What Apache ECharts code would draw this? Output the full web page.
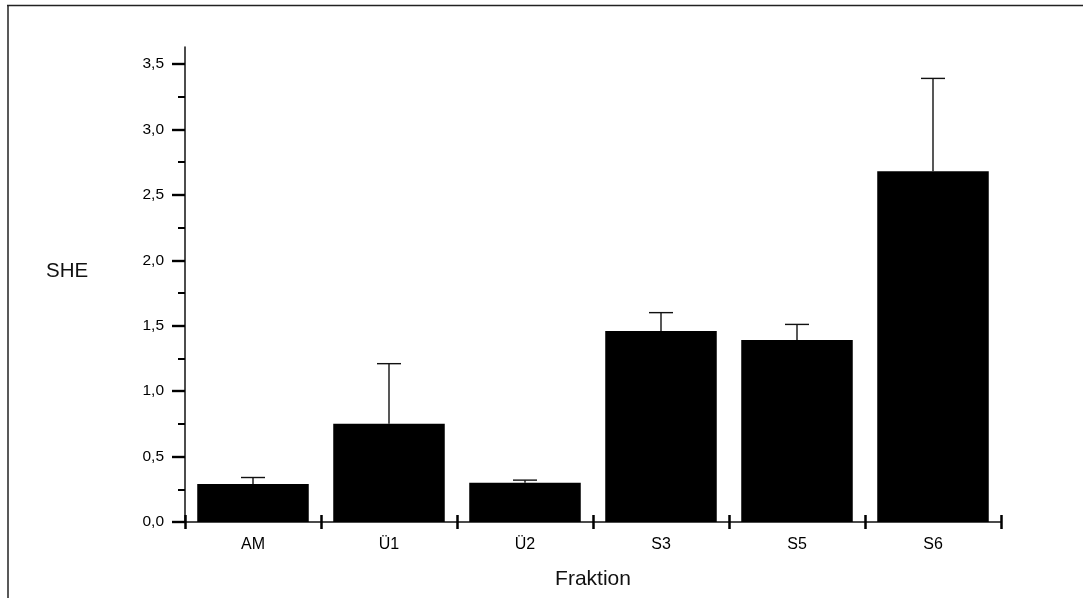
<!DOCTYPE html>
<html>
<head>
<meta charset="utf-8">
<script src="https://cdn.jsdelivr.net/npm/echarts@6/dist/echarts.min.js"></script>
<style>
html,body{margin:0;padding:0;background:#fff;}
#chart{width:1083px;height:598px;}
</style>
</head>
<body>
<div id="chart"></div>
<script>
const categories = ['AM', 'Ü1', 'Ü2', 'S3', 'S5', 'S6'];
const means = [0.29, 0.75, 0.30, 1.46, 1.39, 2.68];
const errUpper = [0.34, 1.21, 0.32, 1.60, 1.51, 3.39];
const yMajorTicks = [0, 0.5, 1.0, 1.5, 2.0, 2.5, 3.0, 3.5];
const yMinorTicks = [0.25, 0.75, 1.25, 1.75, 2.25, 2.75, 3.25];
const yMax = 3.63;
const yTitle = 'SHE';
const xTitle = 'Fraktion';

const FONT = "'Liberation Sans', Arial, Helvetica, sans-serif";
const chart = echarts.init(document.getElementById('chart'));

const errData = categories.map((c, i) => [i, means[i], errUpper[i]]);

chart.setOption({
  animation: false,
  backgroundColor: '#fff',
  textStyle: { fontFamily: FONT, color: '#000' },
  grid: { left: 185, right: 82, top: 47, bottom: 76, containLabel: false },
  xAxis: [
    {
      type: 'category',
      data: categories,
      position: 'bottom',
      name: xTitle,
      nameLocation: 'middle',
      nameGap: 47,
      nameTextStyle: { fontSize: 21, color: '#111', fontFamily: FONT },
      axisLine: { show: true, lineStyle: { color: '#111', width: 1.5 } },
      axisTick: { show: true, length: 7, lineStyle: { color: '#000', width: 2.5 } },
      axisLabel: { fontSize: 16, color: '#000', margin: 15, fontFamily: FONT },
      splitLine: { show: false }
    },
    {
      type: 'category',
      data: categories,
      position: 'bottom',
      offset: 0,
      axisLine: { show: false },
      axisTick: { show: true, inside: true, length: 7, lineStyle: { color: '#000', width: 2.5 } },
      axisLabel: { show: false },
      splitLine: { show: false }
    }
  ],
  yAxis: [
    {
      type: 'value',
      min: 0,
      max: yMax,
      position: 'left',
      axisLine: { show: true, lineStyle: { color: '#111', width: 1.5 } },
      axisTick: { show: true, length: 13, customValues: yMajorTicks, lineStyle: { color: '#000', width: 2.4 } },
      axisLabel: {
        customValues: yMajorTicks,
        fontSize: 15.5, color: '#000', margin: 21, fontFamily: FONT,
        formatter: v => v.toFixed(1).replace('.', ',')
      },
      splitLine: { show: false }
    },
    {
      type: 'value',
      min: 0,
      max: yMax,
      position: 'left',
      offset: 0,
      axisLine: { show: false },
      axisTick: { show: true, length: 7, customValues: yMinorTicks, lineStyle: { color: '#000', width: 2 } },
      axisLabel: { show: false },
      splitLine: { show: false }
    }
  ],
  series: [
    {
      type: 'bar',
      data: means,
      xAxisIndex: 0,
      yAxisIndex: 0,
      barCategoryGap: '18%',
      itemStyle: { color: '#000' },
      z: 2
    },
    {
      type: 'custom',
      xAxisIndex: 0,
      yAxisIndex: 0,
      data: errData,
      z: 3,
      renderItem: function (params, api) {
        const base = api.coord([api.value(0), api.value(1)]);
        const top = api.coord([api.value(0), api.value(2)]);
        const half = 12;
        const style = { stroke: '#111', lineWidth: 1.4 };
        return {
          type: 'group',
          children: [
            { type: 'line', shape: { x1: base[0], y1: base[1], x2: top[0], y2: top[1] }, style: style },
            { type: 'line', shape: { x1: top[0] - half, y1: top[1], x2: top[0] + half, y2: top[1] }, style: style }
          ]
        };
      }
    }
  ],
  graphic: [
    { type: 'line', shape: { x1: 7, y1: 5.5, x2: 1083, y2: 5.5 }, style: { stroke: '#222', lineWidth: 1.5 } },
    { type: 'line', shape: { x1: 8, y1: 5, x2: 8, y2: 598 }, style: { stroke: '#222', lineWidth: 1.5 } },
    { type: 'text', left: 46, top: 261, style: { text: yTitle, fontSize: 20.5, fill: '#111', fontFamily: FONT } }
  ]
});
</script>
</body>
</html>
